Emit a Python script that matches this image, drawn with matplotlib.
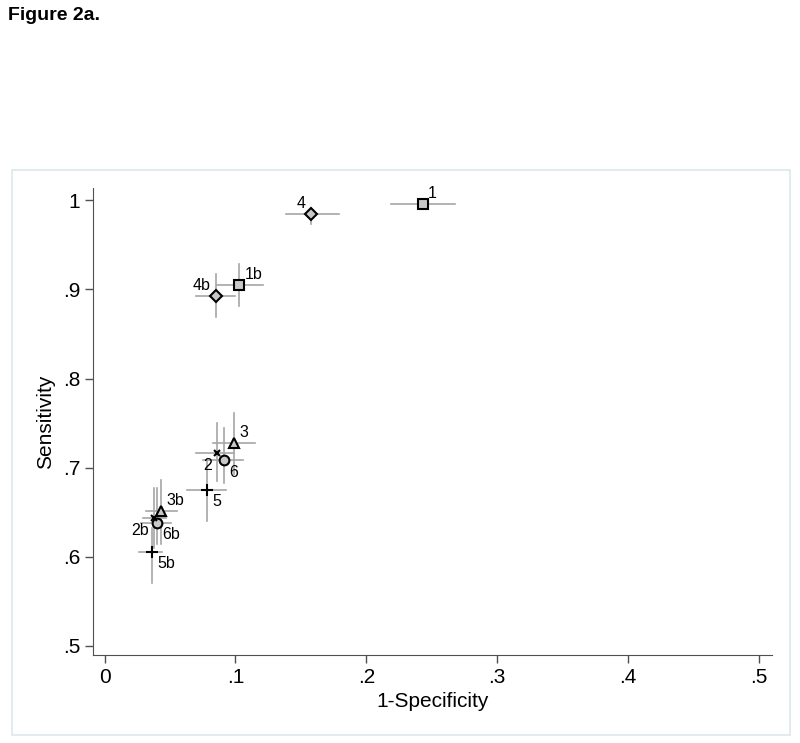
import matplotlib.pyplot as plt
from matplotlib.patches import Rectangle

plt.rcParams['font.family'] = ['Liberation Sans', 'DejaVu Sans']

# study points: 1-specificity (x) and sensitivity (y) with 95% CI
labels = ['1', '4', '1b', '4b', '3', '6', '2', '5', '3b', '6b', '2b', '5b']
fpr = [0.243, 0.158, 0.103, 0.085, 0.099, 0.091, 0.086, 0.078, 0.043, 0.040, 0.038, 0.036]
fpr_lo = [0.219, 0.139, 0.086, 0.070, 0.083, 0.075, 0.070, 0.063, 0.032, 0.028, 0.029, 0.026]
fpr_hi = [0.268, 0.179, 0.121, 0.100, 0.115, 0.106, 0.099, 0.093, 0.055, 0.051, 0.047, 0.044]
sens = [0.996, 0.985, 0.905, 0.893, 0.728, 0.708, 0.716, 0.675, 0.651, 0.638, 0.643, 0.605]
sens_lo = [0.990, 0.974, 0.882, 0.869, 0.693, 0.683, 0.685, 0.640, 0.614, 0.614, 0.610, 0.570]
sens_hi = [1.000, 0.992, 0.929, 0.917, 0.761, 0.744, 0.750, 0.710, 0.686, 0.677, 0.677, 0.632]
markers = ['s', 'D', 's', 'D', '^', 'o', 'x', '+', '^', 'o', 'x', '+']
# stata clock positions for marker labels
label_pos = [1, 11, 1, 11, 1, 4, 7, 4, 1, 4, 7, 4]

offsets = {1: (4, 2, 'left', 'bottom'), 11: (-4, 2, 'right', 'bottom'),
           4: (4, -3, 'left', 'top'), 7: (-4, -3, 'right', 'top')}

fig = plt.figure(figsize=(8, 7.43), dpi=100)
fig.patches.append(Rectangle((12/800, 1-735/743), 778/800, 565/743, transform=fig.transFigure,
                             fill=False, edgecolor='#dde8ea', linewidth=1.2))
fig.text(8/800, 1-15/743, 'Figure 2a.', fontsize=14, fontweight='bold', va='center', ha='left')

ax = fig.add_axes([0.116, 0.1184, 0.849, 0.6286])

for i in range(len(labels)):
    ax.plot([fpr_lo[i], fpr_hi[i]], [sens[i], sens[i]], color='#a6a6a6', lw=1.2, zorder=1)
    ax.plot([fpr[i], fpr[i]], [sens_lo[i], sens_hi[i]], color='#a6a6a6', lw=1.2, zorder=1)

for i in range(len(labels)):
    m = markers[i]
    if m == 'x':
        ax.plot(fpr[i], sens[i], m, color='black', ms=5, mew=1.5, zorder=3)
    elif m == '+':
        ax.plot(fpr[i], sens[i], m, color='black', ms=8, mew=1.5, zorder=3)
    else:
        ms = 7 if m != 'D' else 6.5
        ax.plot(fpr[i], sens[i], m, mfc='#c8c8c8', mec='black', ms=ms, mew=1.5, zorder=3)
    dx, dy, ha, va = offsets[label_pos[i]]
    ax.annotate(labels[i], (fpr[i], sens[i]), xytext=(dx, dy), textcoords='offset points',
                ha=ha, va=va, fontsize=11.5)

ax.set_xlim(-0.009, 0.51)
ax.set_ylim(0.4895, 1.014)
ax.set_xticks([0, 0.1, 0.2, 0.3, 0.4, 0.5])
ax.set_xticklabels(['0', '.1', '.2', '.3', '.4', '.5'])
ax.set_yticks([0.5, 0.6, 0.7, 0.8, 0.9, 1.0])
ax.set_yticklabels(['.5', '.6', '.7', '.8', '.9', '1'])
ax.tick_params(labelsize=15, length=6, color='#505050', width=1, pad=3)
for s in ['top', 'right']:
    ax.spines[s].set_visible(False)
for s in ['left', 'bottom']:
    ax.spines[s].set_color('#505050')
ax.set_xlabel('1-Specificity', fontsize=15, labelpad=4)
ax.set_ylabel('Sensitivity', fontsize=15, labelpad=6)

plt.savefig('out.png', dpi=100)
